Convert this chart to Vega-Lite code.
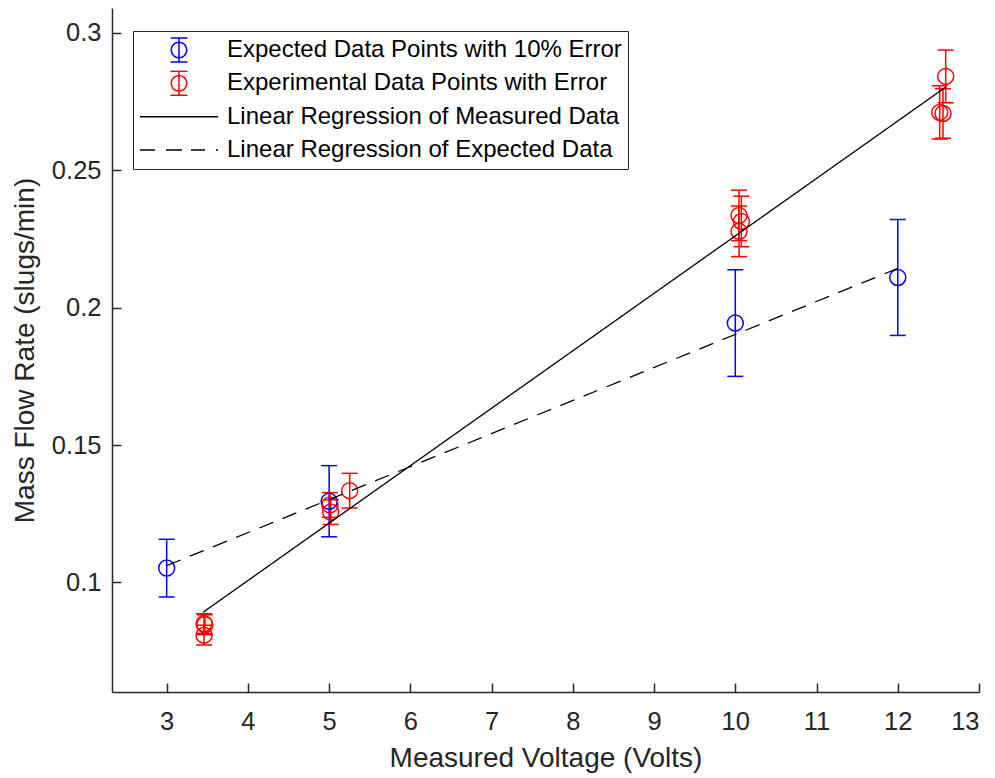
{
  "$schema": "https://vega.github.io/schema/vega-lite/v6.json",
  "autosize": {"type": "none"},
  "width": 867,
  "height": 684,
  "padding": {"left": 112, "top": 8, "right": 16, "bottom": 86},
  "background": "white",
  "config": {
    "view": {"stroke": null},
    "font": "Liberation Sans",
    "axis": {
      "grid": false,
      "domainColor": "#262626",
      "domainWidth": 1.5,
      "tickColor": "#262626",
      "tickWidth": 1.5,
      "tickSize": -9,
      "labelColor": "#262626",
      "titleColor": "#262626",
      "labelFont": "Liberation Sans",
      "titleFont": "Liberation Sans",
      "labelFontSize": 25.5,
      "titleFontSize": 28,
      "titleFontWeight": "normal"
    }
  },
  "datasets": {
    "pts": [
      {"series": "Expected Data Points with 10% Error", "v": 3, "m": 0.1052, "lo": 0.0947, "hi": 0.1157},
      {"series": "Expected Data Points with 10% Error", "v": 5, "m": 0.1295, "lo": 0.1166, "hi": 0.1425},
      {"series": "Expected Data Points with 10% Error", "v": 10, "m": 0.1944, "lo": 0.175, "hi": 0.2138},
      {"series": "Expected Data Points with 10% Error", "v": 12, "m": 0.211, "lo": 0.1899, "hi": 0.2321},
      {"series": "Experimental Data Points with Error", "v": 3.46, "m": 0.085, "lo": 0.0814, "hi": 0.0886},
      {"series": "Experimental Data Points with Error", "v": 3.47, "m": 0.0846, "lo": 0.081, "hi": 0.0882},
      {"series": "Experimental Data Points with Error", "v": 3.46, "m": 0.0808, "lo": 0.0772, "hi": 0.0844},
      {"series": "Experimental Data Points with Error", "v": 5.01, "m": 0.1282, "lo": 0.1237, "hi": 0.1327},
      {"series": "Experimental Data Points with Error", "v": 5.02, "m": 0.1256, "lo": 0.1211, "hi": 0.1301},
      {"series": "Experimental Data Points with Error", "v": 5.253, "m": 0.1334, "lo": 0.1271, "hi": 0.1397},
      {"series": "Experimental Data Points with Error", "v": 10.046, "m": 0.2336, "lo": 0.2244, "hi": 0.2428},
      {"series": "Experimental Data Points with Error", "v": 10.075, "m": 0.2314, "lo": 0.2222, "hi": 0.2406},
      {"series": "Experimental Data Points with Error", "v": 10.046, "m": 0.2278, "lo": 0.2186, "hi": 0.237},
      {"series": "Experimental Data Points with Error", "v": 12.59, "m": 0.2842, "lo": 0.2746, "hi": 0.2938},
      {"series": "Experimental Data Points with Error", "v": 12.516, "m": 0.2711, "lo": 0.2614, "hi": 0.2808},
      {"series": "Experimental Data Points with Error", "v": 12.557, "m": 0.2707, "lo": 0.2617, "hi": 0.2797}
    ],
    "lines": [
      {"series": "Linear Regression of Measured Data", "v": 3.447, "m": 0.0891},
      {"series": "Linear Regression of Measured Data", "v": 12.59, "m": 0.2803},
      {"series": "Linear Regression of Expected Data", "v": 3, "m": 0.1061},
      {"series": "Linear Regression of Expected Data", "v": 12, "m": 0.2143}
    ]
  },
  "encoding": {
    "x": {
      "field": "v", "type": "quantitative",
      "scale": {"domain": [2.327, 13], "nice": false, "zero": false},
      "axis": {"values": [3,4,5,6,7,8,9,10,11,12,13], "format": "d", "labelPadding": 26, "titlePadding": 10},
      "title": "Measured Voltage (Volts)"
    },
    "color": {
      "field": "series", "type": "nominal",
      "scale": {
        "domain": ["Expected Data Points with 10% Error", "Experimental Data Points with Error", "Linear Regression of Measured Data", "Linear Regression of Expected Data"],
        "range": ["#0000ff", "#ff0000", "#000000", "#000000"]
      },
      "legend": {
        "title": null,
        "orient": "none",
        "legendX": 21,
        "legendY": 23,
        "padding": 6,
        "fillColor": "white",
        "strokeColor": "#262626",
        "labelFont": "Liberation Sans",
        "labelFontSize": 24,
        "labelColor": "#000000",
        "labelLimit": 600,
        "labelOffset": 36,
        "symbolOffset": 28,
        "symbolSize": 400,
        "symbolStrokeWidth": 1.5,
        "clipHeight": 26,
        "rowPadding": 7.33,
        "encode": {
          "symbols": {
            "update": {
              "shape": {"signal": "datum.value === 'Linear Regression of Measured Data' ? 'M-3.9,0H3.9' : datum.value === 'Linear Regression of Expected Data' ? 'M-3.9,0H-2.4M-1.3,0H0.3M1.2,0H2.6M3.7,0H3.9' : 'M-0.85,-1.2H0.85M0,-1.2V1.2M-0.85,1.2H0.85M0.78,0L0.72,0.3L0.552,0.552L0.3,0.72L0,0.78L-0.3,0.72L-0.552,0.552L-0.72,0.3L-0.78,0L-0.72,-0.3L-0.552,-0.552L-0.3,-0.72L0,-0.78L0.3,-0.72L0.552,-0.552L0.72,-0.3Z'"},
              "fill": {"value": "transparent"},
              "strokeWidth": {"value": 1.5}
            }
          }
        }
      }
    }
  },
  "layer": [
    {
      "data": {"name": "pts"},
      "mark": {"type": "rule", "strokeWidth": 1.5},
      "encoding": {
        "y": {"field": "lo", "type": "quantitative", "scale": {"domain": [0.0601, 0.3091], "nice": false, "zero": false}, "title": "Mass Flow Rate (slugs/min)",
              "axis": {"values": [0.1, 0.15, 0.2, 0.25, 0.3], "format": "~g", "labelPadding": 20, "titlePadding": 12}},
        "y2": {"field": "hi"}
      }
    },
    {
      "data": {"name": "pts"},
      "mark": {"type": "point", "shape": "M-1,0H1", "size": 256, "filled": false, "strokeWidth": 1.5, "opacity": 1},
      "encoding": {
        "y": {"field": "lo", "type": "quantitative", "title": "Mass Flow Rate (slugs/min)"}
      }
    },
    {
      "data": {"name": "pts"},
      "mark": {"type": "point", "shape": "M-1,0H1", "size": 256, "filled": false, "strokeWidth": 1.5, "opacity": 1},
      "encoding": {
        "y": {"field": "hi", "type": "quantitative", "title": "Mass Flow Rate (slugs/min)"}
      }
    },
    {
      "data": {"name": "pts"},
      "mark": {"type": "point", "shape": "circle", "size": 256, "filled": false, "strokeWidth": 1.5, "opacity": 1},
      "encoding": {
        "y": {"field": "m", "type": "quantitative", "title": "Mass Flow Rate (slugs/min)"}
      }
    },
    {
      "data": {"name": "lines"},
      "mark": {"type": "line", "strokeWidth": 1.3},
      "encoding": {
        "y": {"field": "m", "type": "quantitative", "title": "Mass Flow Rate (slugs/min)"},
        "strokeDash": {
          "field": "series", "type": "nominal",
          "scale": {"domain": ["Linear Regression of Measured Data", "Linear Regression of Expected Data"], "range": [[1, 0], [15, 10]]},
          "legend": null
        }
      }
    }
  ]
}
